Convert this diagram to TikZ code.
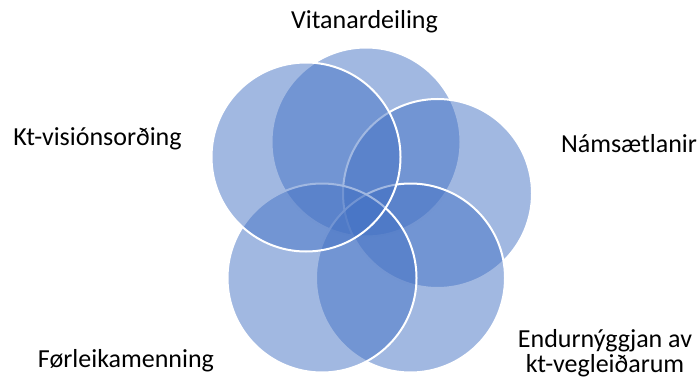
\documentclass[tikz,border=0pt]{standalone}
\usepackage{fontspec}
\setmainfont{Carlito}
\definecolor{vblue}{HTML}{4472C4}
\begin{document}
\begin{tikzpicture}[x=1pt,y=-1pt,
  venn/.style={circle, minimum size=189pt, inner sep=0pt, fill=vblue, fill opacity=0.5,
    draw=white, draw opacity=1, line width=2pt},
  lbl/.style={font=\fontsize{26}{25}\selectfont, inner sep=0pt, anchor=base, align=center}]
\useasboundingbox (0,0) rectangle (700,382);
% circles, in drawing order
\node[venn] (c1) at (366,142) {};
\node[venn] (c2) at (437.5,193.5) {};
\node[venn] (c3) at (410.5,278) {};
\node[venn] (c4) at (322,278) {};
\node[venn] (c5) at (306,157) {};
% labels
\node[lbl] (l1) at (364.5,29) {Vitanardeiling};
\node[lbl] (l2) at (629,153) {Námsætlanir};
\node[lbl] (l3) at (605,372) {Endurnýggjan av\\kt-vegleiðarum};
\node[lbl] (l4) at (126,367) {Førleikamenning};
\node[lbl] (l5) at (97.5,146) {Kt-visiónsorðing};
\end{tikzpicture}
\end{document}
